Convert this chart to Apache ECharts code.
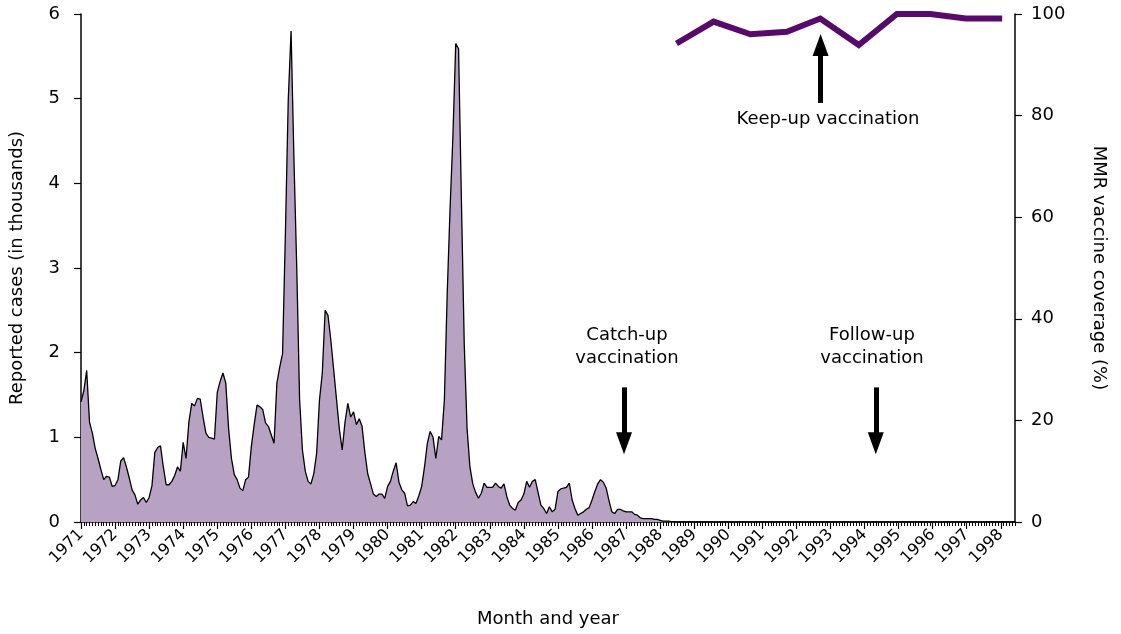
<!DOCTYPE html>
<html>
<head>
<meta charset="utf-8">
<script src="https://cdn.jsdelivr.net/npm/echarts@6/dist/echarts.min.js"></script>
<style>
html,body{margin:0;padding:0;background:#fff;}
#chart{width:1121px;height:634px;}
</style>
</head>
<body>
<div id="chart"></div>
<script>
// Monthly reported cases (thousands), Jan 1971 .. Jun 1998
const startYear = 1971;
const monthlyCases = [
  1.42,1.55,1.79,1.18,1.05,0.87,0.75,0.62,0.50,0.54,0.53,0.42, // 1971
  0.43,0.50,0.72,0.76,0.65,0.52,0.38,0.32,0.21,0.26,0.29,0.23, // 1972
  0.29,0.43,0.82,0.88,0.90,0.65,0.44,0.44,0.48,0.55,0.65,0.60, // 1973
  0.94,0.75,1.18,1.40,1.37,1.46,1.45,1.24,1.05,1.00,0.99,0.98, // 1974
  1.53,1.66,1.76,1.64,1.10,0.75,0.56,0.50,0.40,0.37,0.50,0.53, // 1975
  0.89,1.15,1.38,1.36,1.33,1.17,1.13,1.03,0.93,1.64,1.83,1.99, // 1976
  3.41,4.98,5.80,4.30,3.00,1.45,0.85,0.60,0.48,0.45,0.57,0.81, // 1977
  1.44,1.76,2.50,2.44,2.15,1.80,1.45,1.10,0.85,1.18,1.40,1.24, // 1978
  1.30,1.15,1.22,1.13,0.82,0.57,0.45,0.33,0.30,0.33,0.33,0.28, // 1979
  0.42,0.48,0.60,0.70,0.47,0.38,0.34,0.19,0.20,0.24,0.22,0.31, // 1980
  0.42,0.65,0.93,1.07,1.00,0.75,1.01,0.97,1.44,2.70,3.70,4.55, // 1981
  5.65,5.59,3.80,2.10,1.10,0.65,0.45,0.35,0.28,0.34,0.46,0.41, // 1982
  0.41,0.41,0.46,0.42,0.40,0.45,0.30,0.20,0.16,0.14,0.23,0.26, // 1983
  0.33,0.48,0.41,0.48,0.50,0.35,0.20,0.16,0.10,0.18,0.12,0.15, // 1984
  0.36,0.39,0.40,0.41,0.46,0.26,0.16,0.08,0.10,0.12,0.15,0.17, // 1985
  0.26,0.36,0.45,0.50,0.47,0.40,0.25,0.12,0.10,0.15,0.15,0.13, // 1986
  0.12,0.12,0.12,0.09,0.08,0.05,0.04,0.04,0.04,0.04,0.03,0.03, // 1987
  0.02,0.01,0.01,0.01,0.005,0.005,0,0,0,0,0,0,                 // 1988
  0,0,0,0,0,0,0,0,0,0,0,0, // 1989
  0,0,0,0,0,0,0,0,0,0,0,0, // 1990
  0,0,0,0,0,0,0,0,0,0,0,0, // 1991
  0,0,0,0,0,0,0,0,0,0,0,0, // 1992
  0,0,0,0,0,0,0,0,0,0,0,0, // 1993
  0,0,0,0,0,0,0,0,0,0,0,0, // 1994
  0,0,0,0,0,0,0,0,0,0,0,0, // 1995
  0,0,0,0,0,0,0,0,0,0,0,0, // 1996
  0,0,0,0,0,0,0,0,0,0,0,0, // 1997
  0,0,0,0,0,0              // 1998 (Jan-Jun)
];

// MMR vaccine coverage (%)
const mmrYears    = [1988.48, 1989.57, 1990.65, 1991.72, 1992.70, 1993.83, 1994.95, 1995.93, 1996.97, 1998.04];
const mmrCoverage = [94.2, 98.5, 96.0, 96.5, 99.1, 93.9, 100, 100, 99.1, 99.1];

// Year tick labels
const yearTicks = [1971,1972,1973,1974,1975,1976,1977,1978,1979,1980,1981,1982,1983,1984,
                   1985,1986,1987,1988,1989,1990,1991,1992,1993,1994,1995,1996,1997,1998];

// Annotations (data coordinates)
const catchUpArrow  = {x: 1986.94, from: 1.59, to: 0.93};
const followUpArrow = {x: 1994.33, from: 1.59, to: 0.93};
const keepUpArrow   = {x: 1992.71, from: 82.5, to: 93.9};

const xMax = startYear + (monthlyCases.length - 1) / 12;
const casesData = monthlyCases.map((v, i) => [startYear + i / 12, v]);
const mmrData = mmrYears.map((y, i) => [y, mmrCoverage[i]]);
const monthTicks = [];
for (let i = 0; i < monthlyCases.length; i++) monthTicks.push(startYear + i / 12);

const FONT = 'DejaVu Sans';
const axisCol = '#000';

const chart = echarts.init(document.getElementById('chart'), null, {renderer: 'canvas'});

function arrowLine(a, w, h) {
  return {
    silent: true,
    symbol: ['none', 'triangle'],
    symbolSize: [w, h],
    label: {show: false},
    lineStyle: {color: '#000', width: 5, type: 'solid'},
    itemStyle: {color: '#000'},
    emphasis: {disabled: true},
    animation: false,
    data: [[{coord: [a.x, a.from]}, {coord: [a.x, a.to]}]]
  };
}

const option = {
  animation: false,
  backgroundColor: '#fff',
  textStyle: {fontFamily: FONT, color: '#000'},
  grid: {left: 81, right: 106, top: 14, bottom: 112, containLabel: false, outerBoundsMode: 'none'},
  xAxis: [
    {
      type: 'value', min: startYear, max: xMax, position: 'bottom',
      axisLine: {show: true, lineStyle: {color: axisCol, width: 1.5}},
      axisTick: {show: true, customValues: yearTicks, length: 7, lineStyle: {color: axisCol, width: 1.2}},
      axisLabel: {show: true, customValues: yearTicks, rotate: 45, fontSize: 16, color: '#000',
                  fontFamily: FONT, margin: 10, formatter: v => String(Math.round(v))},
      splitLine: {show: false},
      name: 'Month and year', nameLocation: 'middle', nameGap: 88,
      nameTextStyle: {fontSize: 18, fontFamily: FONT, color: '#000'}
    },
    {
      type: 'value', min: startYear, max: xMax, position: 'bottom',
      axisLine: {show: false},
      axisTick: {show: true, customValues: monthTicks, length: 4, lineStyle: {color: axisCol, width: 1}},
      axisLabel: {show: false},
      splitLine: {show: false}
    }
  ],
  yAxis: [
    {
      type: 'value', min: 0, max: 6, interval: 1, position: 'left',
      axisLine: {show: true, lineStyle: {color: axisCol, width: 1.5}},
      axisTick: {show: true, length: 7, lineStyle: {color: axisCol, width: 1.2}},
      axisLabel: {fontSize: 18, color: '#000', fontFamily: FONT, margin: 21},
      splitLine: {show: false},
      name: 'Reported cases (in thousands)', nameLocation: 'middle', nameGap: 55,
      nameTextStyle: {fontSize: 18, fontFamily: FONT, color: '#000'}
    },
    {
      type: 'value', min: 0, max: 100, interval: 20, position: 'right',
      axisLine: {show: true, lineStyle: {color: axisCol, width: 1.5}},
      axisTick: {show: true, length: 7, lineStyle: {color: axisCol, width: 1.2}},
      axisLabel: {fontSize: 18, color: '#000', fontFamily: FONT, margin: 16},
      splitLine: {show: false},
      name: 'MMR vaccine coverage (%)', nameLocation: 'middle', nameGap: 75, nameRotate: -90,
      nameTextStyle: {fontSize: 18, fontFamily: FONT, color: '#000'}
    }
  ],
  series: [
    {
      name: 'Reported cases', type: 'line', xAxisIndex: 0, yAxisIndex: 0,
      data: casesData, showSymbol: false, symbol: 'none', smooth: false,
      lineStyle: {color: '#000', width: 1.3},
      areaStyle: {color: '#b7a2c4', opacity: 1},
      markLine: arrowLine(catchUpArrow, 16, 22),
      z: 2
    },
    {
      name: 'Follow-up', type: 'line', xAxisIndex: 0, yAxisIndex: 0,
      data: [], showSymbol: false,
      markLine: arrowLine(followUpArrow, 16, 22)
    },
    {
      name: 'MMR coverage', type: 'line', xAxisIndex: 0, yAxisIndex: 1,
      data: mmrData, showSymbol: false, symbol: 'none', clip: false,
      lineStyle: {color: '#570a6c', width: 6, cap: 'butt', join: 'miter'},
      markLine: arrowLine(keepUpArrow, 16, 22),
      z: 3
    }
  ],
  graphic: [
    {type: 'text', x: 627, y: 347, style: {text: 'Catch-up\nvaccination', fontSize: 18, fontFamily: FONT, fill: '#000', align: 'center', verticalAlign: 'middle', lineHeight: 23}},
    {type: 'text', x: 872, y: 347, style: {text: 'Follow-up\nvaccination', fontSize: 18, fontFamily: FONT, fill: '#000', align: 'center', verticalAlign: 'middle', lineHeight: 23}},
    {type: 'text', x: 828, y: 119, style: {text: 'Keep-up vaccination', fontSize: 18, fontFamily: FONT, fill: '#000', align: 'center', verticalAlign: 'middle'}}
  ]
};
chart.setOption(option);
</script>
</body>
</html>
